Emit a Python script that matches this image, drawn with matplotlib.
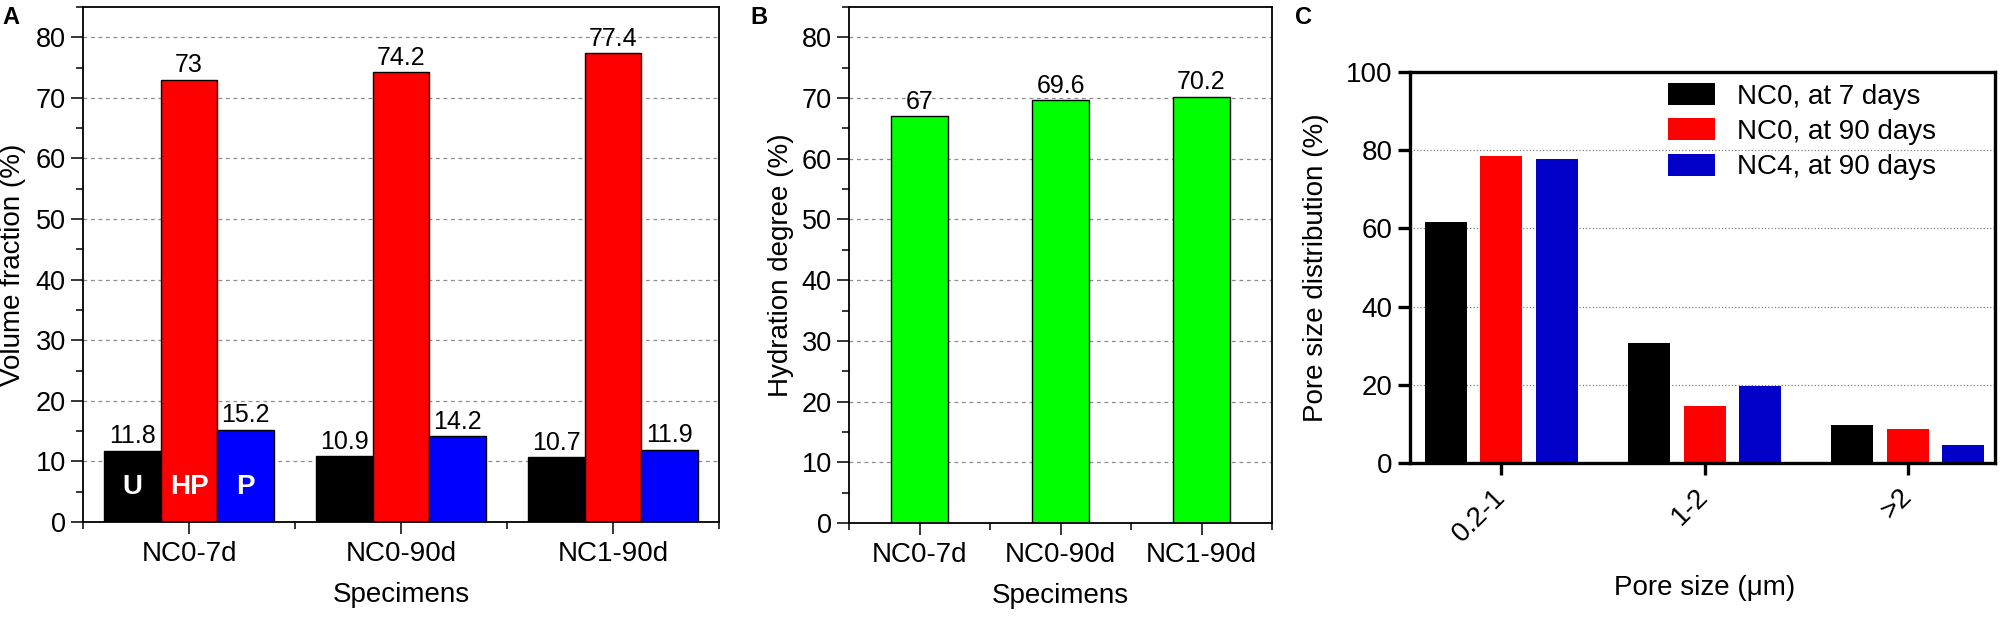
import numpy as np
import matplotlib
matplotlib.use("Agg")
import matplotlib.pyplot as plt
from matplotlib.ticker import MultipleLocator, FixedLocator

plt.rcParams["font.family"] = ["Liberation Sans", "DejaVu Sans"]

# ---- data --------------------------------------------------------------------
specimens = ["NC0-7d", "NC0-90d", "NC1-90d"]
vol_U = [11.8, 10.9, 10.7]
vol_HP = [73, 74.2, 77.4]
vol_P = [15.2, 14.2, 11.9]
phase_names = ["U", "HP", "P"]

hydration = [67, 69.6, 70.2]

pore_bins = ["0.2-1", "1-2", ">2"]
pore_nc0_7 = [61.6, 30.6, 9.6]
pore_nc0_90 = [78.6, 14.6, 8.6]
pore_nc4_90 = [77.7, 19.7, 4.5]
pore_series = ["NC0, at 7 days", "NC0, at 90 days", "NC4, at 90 days"]

fig = plt.figure(figsize=(20, 6.19), dpi=100)
W, H = 2000, 619


def box(l, r, t, b):
    return [l / W, 1 - b / H, (r - l) / W, (b - t) / H]


def origin_style(ax):
    # thin Origin-like frame, dashed grid, out ticks with minors
    for s in ax.spines.values():
        s.set_linewidth(1.3)
    ax.set_xlim(-0.5, 2.5)
    ax.set_ylim(0, 85)
    ax.yaxis.set_major_locator(MultipleLocator(10))
    ax.yaxis.set_minor_locator(MultipleLocator(5))
    ax.xaxis.set_minor_locator(FixedLocator([-0.5, 0.5, 1.5, 2.5]))
    ax.tick_params(which="major", direction="out", length=8.4, width=1.1,
                   top=False, right=False)
    ax.tick_params(which="minor", direction="out", length=4.8, width=1.1,
                   top=False, right=False)
    ax.tick_params(axis="y", labelsize=19.5, pad=4)
    ax.tick_params(axis="x", labelsize=20, pad=5)
    ax.grid(axis="y", which="major", color="0.55", lw=0.9, ls=(0, (3, 3)))
    ax.set_axisbelow(True)
    ax.set_xticks(np.arange(len(specimens)))
    ax.set_xticklabels(specimens)


# ---- A: volume fractions -----------------------------------------------------
axA = fig.add_axes(box(83, 719, 7, 522))
origin_style(axA)
x = np.arange(len(specimens)); w = 0.267
for i, (vals, col) in enumerate(zip([vol_U, vol_HP, vol_P],
                                    ["#000000", "#FF0000", "#0000FF"])):
    axA.bar(x + (i - 1) * w, vals, w, color=col, edgecolor="black", lw=1.0)
    for xi, v in zip(x, vals):
        axA.text(xi + (i - 1) * w, v + 0.4, f"{v:g}", ha="center", va="bottom",
                 fontsize=18)
    axA.text(x[0] + (i - 1) * w, 5.8, phase_names[i], ha="center", va="center",
             color="white", fontsize=20, fontweight="bold")
axA.set_ylabel("Volume fraction (%)", fontsize=20)
axA.set_xlabel("Specimens", fontsize=20)
axA.yaxis.set_label_coords(-0.110, 0.5)
axA.xaxis.set_label_coords(0.5, -0.142)
axA.yaxis.label.set_va("center")
axA.xaxis.label.set_va("center")

# ---- B: hydration degree -----------------------------------------------------
axB = fig.add_axes(box(849, 1272, 7, 523))
origin_style(axB)
axB.bar(x, hydration, 0.40, color="#00FF00", edgecolor="black", lw=1.0)
for xi, v in zip(x, hydration):
    axB.text(xi, v + 0.4, f"{v:g}", ha="center", va="bottom", fontsize=18)
axB.set_ylabel("Hydration degree (%)", fontsize=20)
axB.set_xlabel("Specimens", fontsize=20)
axB.yaxis.set_label_coords(-0.161, 0.5)
axB.xaxis.set_label_coords(0.5, -0.142)
axB.yaxis.label.set_va("center")
axB.xaxis.label.set_va("center")

# ---- C: pore size distribution (Prism-like) ----------------------------------
axC = fig.add_axes(box(1410, 1995, 72, 463))
for s in axC.spines.values():
    s.set_linewidth(2.4)
xc = np.arange(len(pore_bins)); wc = 0.207; off = 0.274
for i, (vals, col) in enumerate(zip([pore_nc0_7, pore_nc0_90, pore_nc4_90],
                                    ["#000000", "#FF0000", "#0000C8"])):
    axC.bar(xc + (i - 1) * off, vals, wc, color=col, label=pore_series[i])
axC.set_xlim(-0.45, 2.43)
axC.set_ylim(0, 100)
axC.set_yticks(np.arange(0, 101, 20))
axC.set_xticks(xc)
axC.set_xticklabels(pore_bins, rotation=45, ha="right", va="center",
                    rotation_mode="anchor")
axC.tick_params(direction="out", length=8.5, width=2.4, labelsize=20)
axC.tick_params(axis="y", pad=4)
axC.tick_params(axis="x", pad=13)
axC.grid(axis="y", color="0.5", lw=0.9, ls=":")
axC.set_axisbelow(True)
axC.set_ylabel("Pore size distribution (%)", fontsize=20)
axC.set_xlabel("Pore size (\u03bcm)", fontsize=20)
axC.yaxis.set_label_coords(-0.161, 0.5)
axC.xaxis.set_label_coords(0.503, -0.32)
axC.yaxis.label.set_va("center")
axC.xaxis.label.set_va("center")
axC.legend(loc="upper left", bbox_to_anchor=(1668 / W, 1 - 83 / H),
           bbox_transform=fig.transFigure, frameon=False, fontsize=20,
           borderpad=0, borderaxespad=0, handlelength=1.7, handleheight=0.85,
           handletextpad=0.8, labelspacing=0.31)

# panel letters
for lab, px in (("A", 11), ("B", 759), ("C", 1304)):
    fig.text(px / W, 1 - 18 / H, lab, ha="center", va="center", fontsize=17,
             fontweight="bold")

fig.savefig("out.png", dpi=100)
